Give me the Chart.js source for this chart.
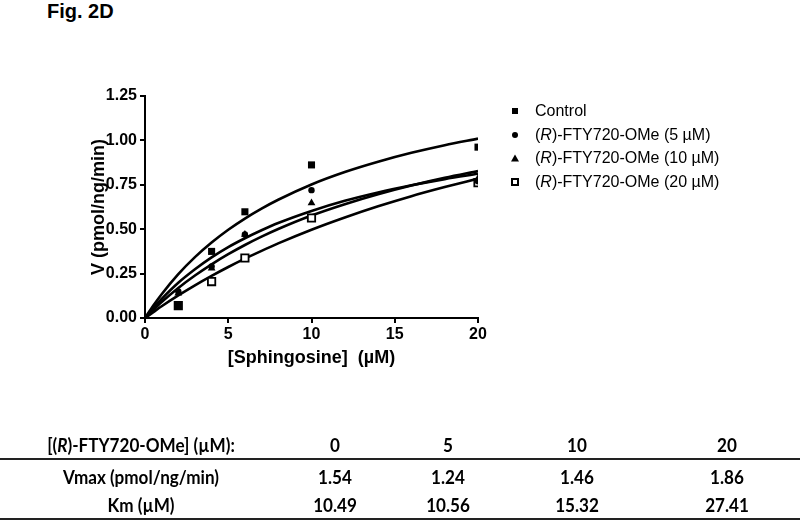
<!DOCTYPE html>
<html>
<head>
<meta charset="utf-8">
<script src="https://cdn.jsdelivr.net/npm/chart.js@4"></script>
<style>
  html,body{margin:0;padding:0;background:#fff;}
  body{width:800px;height:524px;position:relative;overflow:hidden;font-family:'Liberation Sans',Arial,sans-serif;color:#000;}
  #title{position:absolute;left:47px;top:0px;font:bold 20px 'Liberation Sans',Arial,sans-serif;}
  #wrap{position:absolute;left:0;top:0;width:800px;height:372px;}
  #legend{position:absolute;left:505px;top:99px;font:16px 'Liberation Sans',Arial,sans-serif;}
  .row{height:23.7px;line-height:23px;position:relative;padding-left:30px;white-space:nowrap;}
  .mk{position:absolute;left:6px;top:50%;transform:translateY(-50%);}
  .sq{width:6px;height:6px;background:#000;left:7px;}
  .ci{width:6px;height:6px;border-radius:50%;background:#000;left:7px;}
  .tr{width:0;height:0;border-left:4px solid transparent;border-right:4px solid transparent;border-bottom:7px solid #000;left:6px;}
  .os{width:4px;height:4px;border:2px solid #000;background:#fff;left:6px;}
  #table{position:absolute;left:0;top:0;width:800px;height:524px;font:bold 18px Lato,'Open Sans',sans-serif;}
  .cell{position:absolute;transform:translate(-50%,-50%) scaleX(0.95);white-space:nowrap;}
  .hline{position:absolute;left:0;width:800px;height:2px;background:#222;}
</style>
</head>
<body>
<div id="title">Fig. 2D</div>
<div id="wrap"><canvas id="c" width="800" height="372"></canvas></div>
<div id="legend"></div>
<div id="table"></div>
<script>
// ---- data ----
const seriesNames = ['Control', '(R)-FTY720-OMe (5 µM)', '(R)-FTY720-OMe (10 µM)', '(R)-FTY720-OMe (20 µM)'];
const sphingosine = [2, 4, 6, 10, 20];
const controlV = [0.07, 0.375, 0.598, 0.862, 0.962];
const fty5V    = [0.15, 0.29, 0.47, 0.72, 0.77];
const fty10V   = [0.14, 0.28, 0.47, 0.648, 0.785];
const fty20V   = [0.07, 0.205, 0.338, 0.563, 0.762];

// fitted curves (Michaelis-Menten fit lines)
const curveX       = [0, 0.5, 1, 2, 3, 4, 5, 6, 7, 8, 10, 12, 14, 16, 18, 20];
const controlCurve = [0, 0.070, 0.134, 0.247, 0.343, 0.425, 0.497, 0.560, 0.616, 0.666, 0.752, 0.822, 0.880, 0.930, 0.973, 1.010];
const fty5Curve    = [0, 0.056, 0.107, 0.198, 0.274, 0.341, 0.399, 0.449, 0.494, 0.535, 0.603, 0.660, 0.707, 0.747, 0.782, 0.812];
const fty10Curve   = [0, 0.046, 0.090, 0.169, 0.239, 0.302, 0.359, 0.411, 0.458, 0.501, 0.577, 0.641, 0.697, 0.746, 0.789, 0.827];
const fty20Curve   = [0, 0.033, 0.066, 0.127, 0.184, 0.237, 0.287, 0.334, 0.378, 0.420, 0.497, 0.566, 0.629, 0.686, 0.737, 0.785];

const xTicks = [0, 5, 10, 15, 20];
const yTicks = [0, 0.25, 0.5, 0.75, 1.0, 1.25];

// table
const tableHeader = '[(<i>R</i>)-FTY720-OMe] (µM):';
const concentrations = ['0', '5', '10', '20'];
const vmaxLabel = 'Vmax (pmol/ng/min)';
const vmaxValues = ['1.54', '1.24', '1.46', '1.86'];
const kmLabel = 'Km (µM)';
const kmValues = ['10.49', '10.56', '15.32', '27.41'];

// ---- build chart ----
const toPts = (xs, ys) => xs.map((x, i) => ({x: x, y: ys[i]}));
const markerStyles = [
  {pointStyle: 'rect', radius: 5, bg: '#000', bw: 0},
  {pointStyle: 'circle', radius: 3.2, bg: '#000', bw: 0},
  {pointStyle: 'triangle', radius: 4.5, bg: '#000', bw: 0},
  {pointStyle: 'rect', radius: 5.2, bg: '#fff', bw: 1.8}
];
const pointSeries = [controlV, fty5V, fty10V, fty20V];
const curveSeries = [controlCurve, fty5Curve, fty10Curve, fty20Curve];

const datasets = [];
curveSeries.forEach((c, i) => {
  datasets.push({
    type: 'line', label: seriesNames[i] + ' fit', data: toPts(curveX, c),
    borderColor: '#000', borderWidth: 2.6, pointRadius: 0, fill: false,
    cubicInterpolationMode: 'monotone', order: 2
  });
});
pointSeries.forEach((s, i) => {
  const m = markerStyles[i];
  datasets.push({
    type: 'scatter', label: seriesNames[i], data: toPts(sphingosine, s),
    showLine: false, pointStyle: m.pointStyle, pointRadius: m.radius,
    pointBackgroundColor: m.bg, pointBorderColor: '#000', pointBorderWidth: m.bw,
    order: 1
  });
});

const tickFont = {family: "'Liberation Sans', Arial, sans-serif", weight: 'bold', size: 16};
const titleFont = {family: "'Liberation Sans', Arial, sans-serif", weight: 'bold', size: 18};

new Chart(document.getElementById('c'), {
  data: {datasets: datasets},
  options: {
    responsive: false, animation: false, devicePixelRatio: 1,
    layout: {padding: {left: 84, top: 96, right: 322, bottom: 0}},
    plugins: {legend: {display: false}, tooltip: {enabled: false}},
    scales: {
      x: {
        type: 'linear', min: 0, max: 20,
        afterBuildTicks: s => { s.ticks = xTicks.map(v => ({value: v})); },
        ticks: {font: tickFont, color: '#000', padding: 2, callback: v => String(v)},
        grid: {drawOnChartArea: false, drawTicks: true, tickLength: 5, color: '#000', lineWidth: 2},
        border: {display: true, color: '#000', width: 2},
        title: {display: true, text: '[Sphingosine]  (µM)', font: titleFont, color: '#000', padding: {top: 4, bottom: 3}},
        afterFit: s => { s.height = 54; }
      },
      y: {
        type: 'linear', min: 0, max: 1.25,
        afterBuildTicks: s => { s.ticks = yTicks.map(v => ({value: v})); },
        ticks: {font: tickFont, color: '#000', padding: 3, callback: v => Number(v).toFixed(2)},
        grid: {drawOnChartArea: false, drawTicks: true, tickLength: 5, color: '#000', lineWidth: 2},
        border: {display: true, color: '#000', width: 2},
        title: {display: true, text: 'V (pmol/ng/min)', font: titleFont, color: '#000', padding: {top: 4, bottom: 4}},
        afterFit: s => { s.width = 61; }
      }
    }
  }
});

// ---- legend (HTML, real text) ----
const mkClass = ['sq', 'ci', 'tr', 'os'];
const legend = document.getElementById('legend');
seriesNames.forEach((name, i) => {
  const row = document.createElement('div');
  row.className = 'row';
  const mk = document.createElement('span');
  mk.className = 'mk ' + mkClass[i];
  row.appendChild(mk);
  const t = document.createElement('span');
  t.innerHTML = name.replace('(R)', '(<i>R</i>)');
  row.appendChild(t);
  legend.appendChild(row);
});

// ---- table ----
const table = document.getElementById('table');
const colX = [335, 448, 577, 727];
const labelX = 141;
const rowY = [445, 477, 505];
function cell(html, x, y) {
  const d = document.createElement('div');
  d.className = 'cell';
  d.style.left = x + 'px';
  d.style.top = y + 'px';
  d.innerHTML = html;
  table.appendChild(d);
}
cell(tableHeader, labelX, rowY[0]);
concentrations.forEach((v, i) => cell(v, colX[i], rowY[0]));
cell(vmaxLabel, labelX, rowY[1]);
vmaxValues.forEach((v, i) => cell(v, colX[i], rowY[1]));
cell(kmLabel, labelX, rowY[2]);
kmValues.forEach((v, i) => cell(v, colX[i], rowY[2]));
[458, 518].forEach(y => {
  const l = document.createElement('div');
  l.className = 'hline';
  l.style.top = y + 'px';
  table.appendChild(l);
});
</script>
</body>
</html>
